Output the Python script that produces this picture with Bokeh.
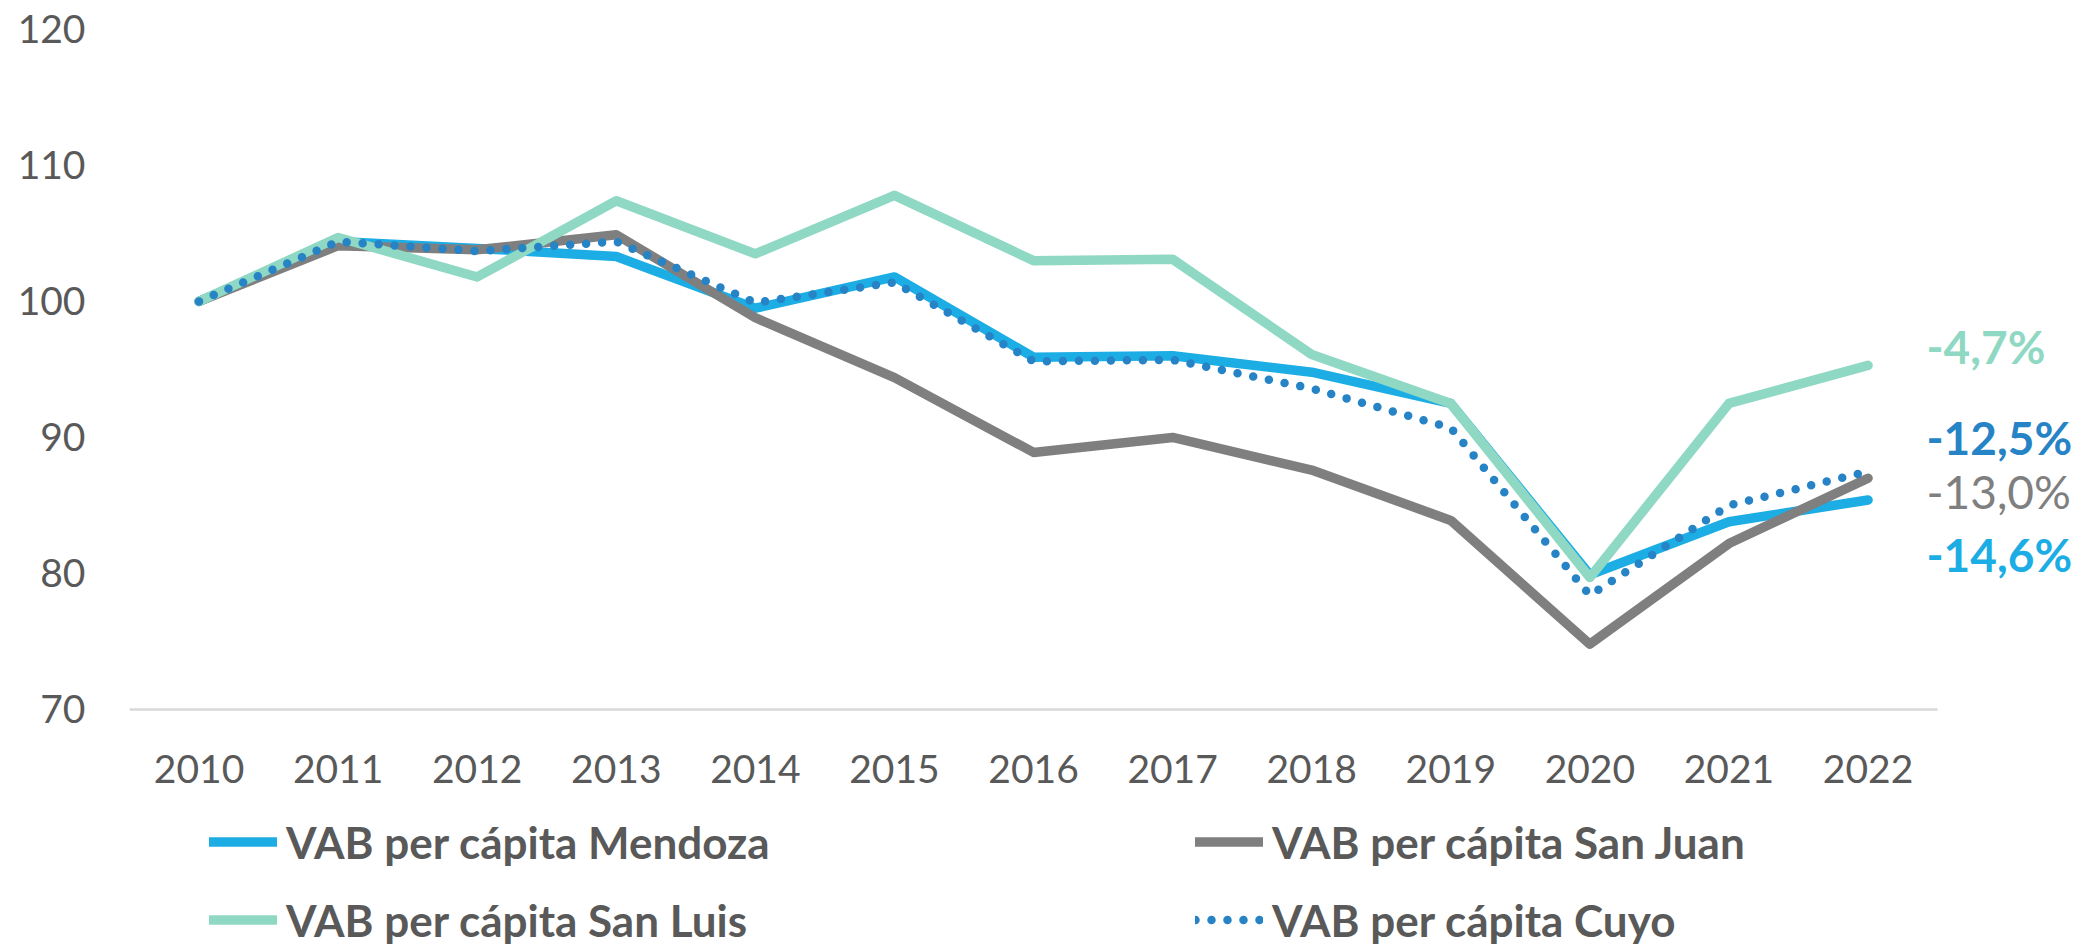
from bokeh.plotting import figure
from bokeh.layouts import column
from bokeh.models import Legend, LegendItem, ColumnDataSource, Range1d, FixedTicker
from bokeh.core.properties import value
from bokeh.embed import file_html
from bokeh.resources import INLINE

years = list(range(2010, 2023))
mendoza = [100, 104.4, 103.9, 103.3, 99.5, 101.8, 95.9, 96.0, 94.8, 92.5, 79.9, 83.8, 85.4]
san_juan = [100, 104.1, 103.8, 104.9, 98.8, 94.4, 88.9, 90.0, 87.6, 83.9, 74.8, 82.2, 87.0]
san_luis = [100, 104.7, 101.8, 107.4, 103.5, 107.8, 103.0, 103.1, 96.1, 92.5, 79.7, 92.5, 95.3]
cuyo = [100, 104.4, 103.7, 104.4, 99.9, 101.4, 95.6, 95.7, 93.6, 90.7, 78.4, 85.0, 87.5]

series_names = ["VAB per cápita Mendoza", "VAB per cápita San Juan",
                "VAB per cápita San Luis", "VAB per cápita Cuyo"]
end_labels = ["-4,7%", "-12,5%", "-13,0%", "-14,6%"]
y_ticks = [70, 80, 90, 100, 110, 120]

C_MEN = "#1CADE4"
C_SJ = "#7F7F7F"
C_SL = "#8FD8C3"
C_CUYO = "#2683C6"
TXT = "#595959"
FONT = "Lato"

series = [mendoza, san_juan, san_luis, cuyo]
styles = [
    dict(line_color=C_MEN, line_width=9.5, line_join="round", line_cap="round"),
    dict(line_color=C_SJ, line_width=9.5, line_join="round", line_cap="round"),
    dict(line_color=C_SL, line_width=9.5, line_join="round", line_cap="round"),
    dict(line_color=C_CUYO, line_width=8.5, line_join="round", line_cap="round", line_dash="0 16"),
]

p = figure(width=2077, height=810, output_backend="svg", toolbar_location=None,
           x_range=Range1d(2009.5, 2023.506), y_range=Range1d(69.85, 120.95),
           min_border_left=129, min_border_right=0, min_border_top=16, min_border_bottom=99)
p.outline_line_color = None
p.grid.grid_line_color = None

p.xaxis.ticker = FixedTicker(ticks=years)
p.yaxis.ticker = FixedTicker(ticks=y_ticks)
for ax in (p.xaxis[0], p.yaxis[0]):
    ax.axis_line_color = None
    ax.major_tick_line_color = None
    ax.minor_tick_line_color = None
    ax.major_tick_in = 0
    ax.major_tick_out = 0
    ax.major_label_text_font = FONT
    ax.major_label_text_font_size = "39px"
    ax.major_label_text_color = TXT
p.yaxis.major_label_standoff = 44
p.xaxis.major_label_standoff = 43

# baseline at the bottom of the category area
p.segment(x0=[min(years) - 0.5], y0=[y_ticks[0]], x1=[max(years) + 0.5], y1=[y_ticks[0]],
          line_color="#D9D9D9", line_width=2.5)

for ys, st in zip(series, styles):
    p.line(years, ys, **st)

lab_src = ColumnDataSource(dict(
    x=[2022.42] * 4,
    y=[96.7, 90.0, 86.0, 81.4],
    text=end_labels,
    color=[C_SL, C_CUYO, C_SJ, C_MEN],
    style=["bold", "bold", "normal", "bold"],
))
p.text(x="x", y="y", text="text", source=lab_src, text_color="color",
       text_font=value(FONT), text_font_size="46px", text_font_style="style",
       text_align="left", text_baseline="middle")

# legend strip below the chart (swatch renderers lie outside its view)
q = figure(width=2077, height=136, output_backend="svg", toolbar_location=None,
           x_axis_type=None, y_axis_type=None,
           x_range=Range1d(0, 1), y_range=Range1d(0, 1),
           min_border_left=0, min_border_right=0, min_border_top=0, min_border_bottom=0)
q.outline_line_color = None
q.grid.grid_line_color = None
sw = [q.line(years, ys, **st) for ys, st in zip(series, styles)]

def make_legend(idx, loc):
    return Legend(items=[LegendItem(label=series_names[i], renderers=[sw[i]]) for i in idx],
                  location=loc, orientation="vertical",
                  label_text_font=FONT, label_text_font_size="44px",
                  label_text_font_style="bold", label_text_color=TXT,
                  glyph_width=68, glyph_height=53, label_height=53,
                  label_standoff=9, spacing=25, padding=0, margin=0,
                  border_line_color=None, background_fill_alpha=0)

q.add_layout(make_legend([0, 2], (80, 0)), "center")
q.add_layout(make_legend([1, 3], (1066, 0)), "center")

layout = column(p, q, spacing=0)
open("out.html", "w").write(file_html(layout, INLINE))
